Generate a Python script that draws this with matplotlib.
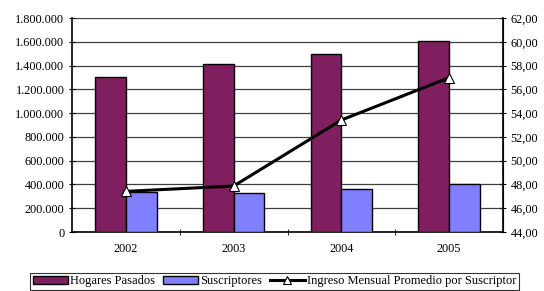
import matplotlib.pyplot as plt
import matplotlib.ticker as mticker
import numpy as np

plt.rcParams['font.family'] = ['Liberation Serif', 'DejaVu Serif']

years = ["2002", "2003", "2004", "2005"]
hogares = [1304000, 1412000, 1497000, 1607000]
suscriptores = [339000, 331000, 359000, 406000]
ingreso = [47.42, 47.87, 53.42, 56.98]

def miles(v, pos):
    return f"{int(v):,}".replace(",", ".")

def dec(v, pos):
    return f"{v:.2f}".replace(".", ",")

fig = plt.figure(figsize=(5.44, 2.91), dpi=100)
ax = fig.add_axes([0.1324, 0.2027, 0.7922, 0.7353])
x = np.arange(len(years))
w = 0.285
ax.bar(x - w / 2, hogares, w, color="#7F1F5F", edgecolor="black", linewidth=1, label="Hogares Pasados", zorder=3)
ax.bar(x + w / 2, suscriptores, w, color="#8080FF", edgecolor="black", linewidth=1, label="Suscriptores", zorder=3)
ax.set_xlim(-0.5, 3.5)
ax.set_ylim(0, 1800000)
ax.yaxis.set_major_locator(mticker.MultipleLocator(200000))
ax.yaxis.set_major_formatter(mticker.FuncFormatter(miles))
ax.grid(axis="y", color="#404040", linewidth=0.9, zorder=0)
ax.set_xticks(x)
ax.set_xticklabels(years)
ax.tick_params(axis="x", length=0, labelsize=8.8, pad=8)
ax.set_xticks([0.5, 1.5, 2.5], minor=True)
ax.tick_params(axis="x", which="minor", length=4, direction="inout")
ax.tick_params(axis="y", labelsize=8.8, length=4, direction="inout")
ax.spines["top"].set_visible(False)
ax.spines["left"].set_linewidth(1.2)
ax.spines["bottom"].set_linewidth(1.2)

ax2 = ax.twinx()
ax2.plot(x, ingreso, color="black", linewidth=2.2, marker="^", markersize=7,
         markerfacecolor="white", markeredgecolor="black", markeredgewidth=0.8,
         label="Ingreso Mensual Promedio por Suscriptor", zorder=4)
ax2.set_ylim(44, 62)
ax2.yaxis.set_major_locator(mticker.MultipleLocator(2))
ax2.yaxis.set_major_formatter(mticker.FuncFormatter(dec))
ax2.tick_params(axis="y", labelsize=8.8, length=4, direction="inout")
ax2.spines["top"].set_visible(False)
ax2.spines["left"].set_visible(False)
ax2.spines["bottom"].set_visible(False)
ax2.spines["right"].set_linewidth(1.2)

h1, l1 = ax.get_legend_handles_labels()
h2, l2 = ax2.get_legend_handles_labels()
leg = fig.legend(h1 + h2, l1 + l2, loc="lower center", bbox_to_anchor=(0.505, 0.0),
                 ncol=3, fontsize=9.0, frameon=True, fancybox=False,
                 handlelength=2.8, handleheight=0.6, handletextpad=0.2, columnspacing=0.6,
                 borderpad=0.2, borderaxespad=0.1, markerscale=0.8)
leg.get_frame().set_edgecolor("black")
leg.get_frame().set_linewidth(0.8)

fig.savefig("out.png", dpi=100)
